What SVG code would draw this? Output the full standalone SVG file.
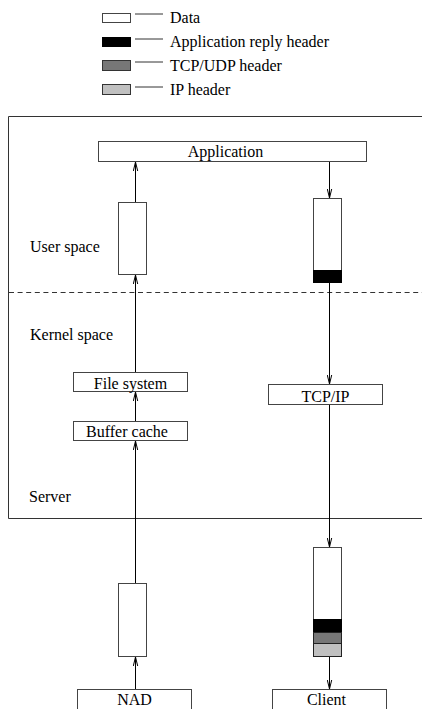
<svg xmlns="http://www.w3.org/2000/svg" width="422" height="709" viewBox="0 0 422 709" font-family="'Liberation Serif', 'Times New Roman', Times, serif" font-size="16">
<defs>
<style>
text{font-family:'Liberation Serif','Times New Roman',Times,serif;font-size:16px;fill:#000}
.box{fill:#fff;stroke:#444;stroke-width:1}
.lg{stroke:#333;stroke-width:1}
.c{stroke:#000;stroke-width:1;fill:none}
.mid{text-anchor:middle}
</style>
<!-- open V arrowhead -->
<marker id="ah" viewBox="0 0 9 6" refX="9" refY="3" markerWidth="9" markerHeight="6" markerUnits="userSpaceOnUse" orient="auto">
<path d="M0,0.8 L9,3 L0,5.2" fill="none" stroke="#000" stroke-width="1"/>
</marker>
</defs>
<rect width="422" height="709" fill="#fff"/>

<!-- legend -->
<g id="legend">
<rect x="102.5" y="13.5" width="28" height="9" class="box"/>
<line x1="135" y1="14" x2="163" y2="14" class="lg"/>
<text x="170" y="22.5">Data</text>
<rect x="102.5" y="37.5" width="28" height="9" fill="#000" stroke="#000"/>
<line x1="135" y1="39" x2="163" y2="39" class="lg"/>
<text x="170" y="47">Application reply header</text>
<rect x="102.5" y="60.5" width="28" height="10" fill="#777" stroke="#333"/>
<line x1="135" y1="62" x2="163" y2="62" class="lg"/>
<text x="170" y="70.5">TCP/UDP header</text>
<rect x="102.5" y="84.5" width="28" height="10" fill="#c0c0c0" stroke="#333"/>
<line x1="135" y1="87" x2="163" y2="87" class="lg"/>
<text x="170" y="94.5">IP header</text>
</g>

<!-- server enclosure (open to the right) -->
<g id="server">
<path d="M423,116.5 H8.5 V518.5 H423" fill="none" stroke="#333" stroke-width="1"/>
<line x1="9" y1="292.5" x2="422" y2="292.5" stroke="#333" stroke-width="1" stroke-dasharray="5,3.6"/>
<text x="30" y="251.5">User space</text>
<text x="30" y="340">Kernel space</text>
<text x="29" y="502">Server</text>
</g>

<!-- connectors -->
<g id="connectors">
<line x1="135.5" y1="202" x2="135.5" y2="162" class="c" marker-end="url(#ah)"/>
<line x1="135.5" y1="372" x2="135.5" y2="275" class="c" marker-end="url(#ah)"/>
<line x1="135.5" y1="422" x2="135.5" y2="392" class="c" marker-end="url(#ah)"/>
<line x1="135.5" y1="583" x2="135.5" y2="441" class="c" marker-end="url(#ah)"/>
<line x1="135.5" y1="689" x2="135.5" y2="657" class="c" marker-end="url(#ah)"/>
<line x1="329.5" y1="162" x2="329.5" y2="198" class="c" marker-end="url(#ah)"/>
<line x1="329.5" y1="283" x2="329.5" y2="384" class="c" marker-end="url(#ah)"/>
<line x1="329.5" y1="405" x2="329.5" y2="547" class="c" marker-end="url(#ah)"/>
<line x1="329.5" y1="657" x2="329.5" y2="689" class="c" marker-end="url(#ah)"/>
</g>

<g id="application">
<rect x="98.5" y="141.5" width="268" height="20" class="box"/>
<text x="225.5" y="156.5" class="mid">Application</text>
</g>

<g id="user-data">
<rect x="118.5" y="202.5" width="28" height="72" class="box"/>
</g>

<g id="user-reply">
<rect x="313.5" y="198.5" width="28" height="84" class="box"/>
<rect x="313.5" y="270.5" width="28" height="12" fill="#000" stroke="#000"/>
</g>

<g id="file-system">
<rect x="73.5" y="372.5" width="114" height="19" class="box"/>
<text x="130.5" y="389" class="mid">File system</text>
</g>

<g id="buffer-cache">
<rect x="73.5" y="421.5" width="114" height="19" class="box"/>
<text x="127" y="437" class="mid">Buffer cache</text>
</g>

<g id="tcp-ip">
<rect x="268.5" y="384.5" width="114" height="20" class="box"/>
<text x="325.5" y="401.5" class="mid">TCP/IP</text>
</g>

<g id="nad-data">
<rect x="118.5" y="583.5" width="28" height="73" class="box"/>
</g>

<g id="client-packet">
<rect x="313.5" y="547.5" width="28" height="109" class="box"/>
<rect x="313.5" y="619.5" width="28" height="13" fill="#000" stroke="#000"/>
<rect x="313.5" y="632.5" width="28" height="11" fill="#777" stroke="#222"/>
<rect x="313.5" y="643.5" width="28" height="13" fill="#c0c0c0" stroke="#222"/>
</g>

<g id="nad">
<rect x="77.5" y="689.5" width="114" height="25" class="box"/>
<text x="134.5" y="705" class="mid">NAD</text>
</g>

<g id="client">
<rect x="272.5" y="689.5" width="114" height="25" class="box"/>
<text x="326.5" y="705" class="mid">Client</text>
</g>
</svg>
